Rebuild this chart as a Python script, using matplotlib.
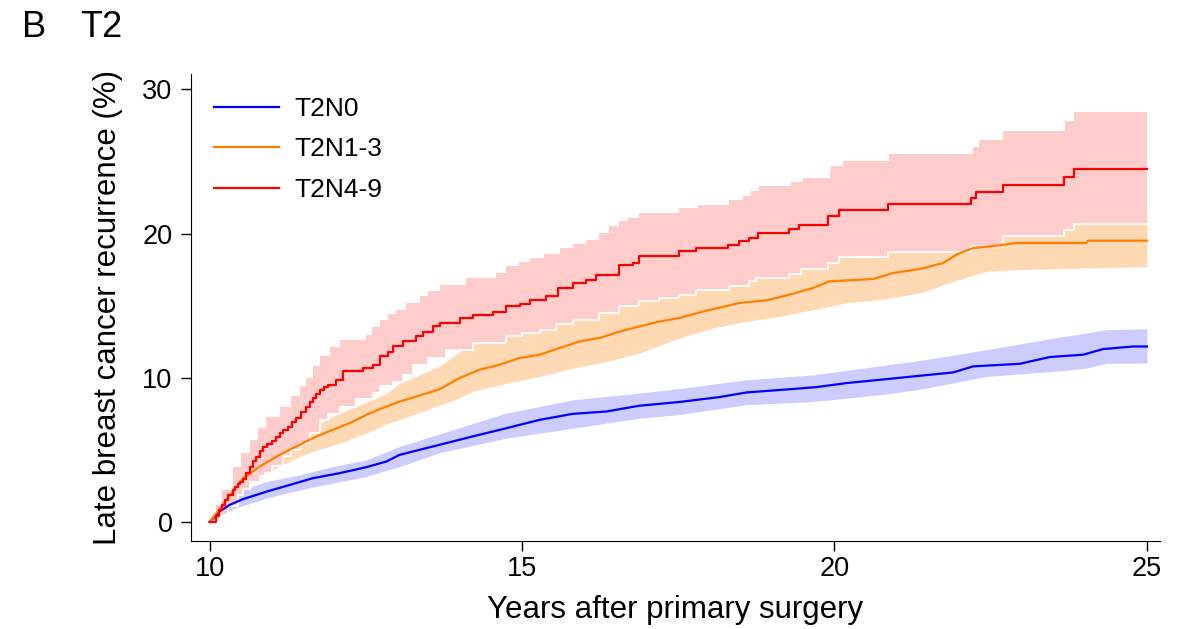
import numpy as np
import matplotlib
matplotlib.use("Agg")
import matplotlib.pyplot as plt

plt.rcParams['font.family'] = ['Liberation Sans', 'DejaVu Sans']

# --- T2N4-9 (red), step data
red_t = [10.0, 10.1, 10.15, 10.2, 10.25, 10.3, 10.37, 10.41, 10.45, 10.49, 10.53, 10.58, 10.64, 10.7,
         10.75, 10.8, 10.85, 10.92, 11.0, 11.06, 11.12, 11.18, 11.25, 11.32, 11.39, 11.47,
         11.55, 11.6, 11.65, 11.7, 11.76, 11.83, 11.9, 12.03, 12.13, 12.45, 12.61, 12.72, 12.85, 12.93,
         13.09, 13.31, 13.41, 13.57, 13.68, 14.0, 14.21, 14.53, 14.75, 14.96, 15.12, 15.39, 15.58, 15.82,
         16.03, 16.19, 16.56, 16.78, 16.88, 17.52, 17.79, 18.3, 18.48, 18.64, 18.78, 19.28, 19.44, 19.9,
         20.08, 20.86, 22.19, 22.27, 22.69, 23.67, 23.83, 25.0]
red_v = [0.0, 0.4, 0.8, 1.2, 1.5, 1.9, 2.2, 2.4, 2.6, 2.8, 3.0, 3.4, 3.8, 4.2,
         4.5, 4.9, 5.2, 5.4, 5.6, 5.9, 6.16, 6.4, 6.6, 6.9, 7.2, 7.6,
         8.0, 8.3, 8.6, 8.9, 9.17, 9.35, 9.5, 9.86, 10.44, 10.67, 10.9, 11.48, 11.8, 12.17,
         12.52, 12.87, 13.2, 13.56, 13.8, 14.15, 14.38, 14.54, 14.95, 15.14, 15.4, 15.7, 16.2, 16.57,
         16.8, 17.15, 17.85, 17.96, 18.47, 18.77, 19.0, 19.24, 19.51, 19.7, 20.05, 20.35, 20.6, 21.2,
         21.67, 22.08, 22.48, 22.92, 23.36, 23.9, 24.5, 24.5]

red_hi_t = [10.0, 10.1, 10.2, 10.37, 10.5, 10.64, 10.78, 10.91, 11.12, 11.3, 11.44, 11.55, 11.65, 11.76,
            11.92, 12.08, 12.51, 12.6, 12.72, 12.85, 12.99, 13.15, 13.36, 13.5, 13.68, 14.11, 14.59, 14.75,
            14.95, 15.12, 15.35, 15.6, 15.82, 16.03, 16.24, 16.4, 16.56, 16.7, 16.88, 17.52, 17.82, 18.32,
            18.54, 18.67, 18.8, 19.31, 19.5, 19.93, 19.95, 20.14, 20.88, 22.22, 22.32, 22.7, 23.69, 23.83, 25.0]
red_hi_v = [0.0, 1.2, 2.2, 3.84, 4.8, 5.7, 6.5, 7.3, 8.0, 8.7, 9.4, 9.98, 10.8, 11.48,
            12.1, 12.64, 12.99, 13.5, 14.03, 14.4, 14.72, 15.2, 15.65, 16.0, 16.4, 16.92, 17.27, 17.73,
            18.0, 18.31, 18.6, 19.0, 19.3, 19.58, 20.05, 20.5, 20.85, 21.1, 21.44, 21.78, 22.0, 22.36,
            22.59, 22.94, 23.28, 23.56, 23.87, 24.26, 24.68, 25.02, 25.53, 26.0, 26.5, 27.1, 27.8, 28.47, 28.47]

red_lo_t = [10.0, 10.16, 10.3, 10.45, 10.53, 10.65, 10.8, 10.88, 11.0, 11.17, 11.3, 11.44, 11.6, 11.76,
            11.9, 12.08, 12.35, 12.61, 12.72, 12.93, 13.1, 13.25, 13.5, 13.79, 14.21, 14.75, 15.0, 15.28,
            15.55, 15.82, 16.24, 16.56, 16.88, 17.2, 17.52, 17.79, 18.32, 18.64, 18.75, 19.28, 19.47, 19.9,
            20.08, 20.86, 22.19, 22.69, 23.67, 23.83, 25.0]
red_lo_v = [0.0, 0.5, 1.1, 1.9, 2.3, 2.8, 3.2, 3.38, 3.9, 4.54, 5.0, 5.46, 6.16, 7.08,
            7.5, 8.0, 8.5, 8.94, 9.4, 9.7, 10.2, 10.9, 11.4, 11.94, 12.4, 12.87, 13.1, 13.33,
            13.7, 14.03, 14.5, 14.95, 15.3, 15.5, 15.76, 16.1, 16.34, 16.69, 16.92, 17.2, 17.55, 17.96,
            18.35, 18.7, 19.12, 19.8, 20.28, 20.67, 20.67]

# --- T2N1-3 (orange)
org_t = [10.0, 10.27, 10.53, 10.8, 11.17, 11.44, 11.71, 11.97, 12.24, 12.51, 12.77, 13.04, 13.31, 13.68,
         14.0, 14.32, 14.64, 14.96, 15.28, 15.6, 15.92, 16.24, 16.56, 16.88, 17.2, 17.52, 17.9, 18.48,
         18.91, 19.28, 19.66, 19.92, 20.62, 20.94, 21.37, 21.74, 21.95, 22.22, 22.65, 22.91, 24.03, 24.06, 25.0]
org_v = [0.0, 1.53, 3.0, 3.84, 4.77, 5.35, 5.93, 6.39, 6.85, 7.43, 7.9, 8.35, 8.7, 9.2,
         9.98, 10.56, 10.9, 11.37, 11.6, 12.06, 12.52, 12.76, 13.2, 13.56, 13.9, 14.15, 14.6, 15.19,
         15.37, 15.76, 16.23, 16.69, 16.85, 17.27, 17.55, 17.96, 18.54, 19.0, 19.19, 19.35, 19.35, 19.51, 19.51]

org_band_t = [10.0, 10.27, 10.53, 10.88, 11.17, 11.44, 11.66, 12.08, 12.61, 12.83, 13.04, 13.68, 14.0, 14.21,
              14.75, 15.28, 15.82, 16.35, 16.88, 17.52, 18.06, 18.59, 19.12, 19.66, 20.19, 20.73, 21.37,
              21.9, 22.43, 22.97, 24.03, 25.0]
org_hi_v = [0.0, 1.9, 3.6, 4.6, 5.6, 6.15, 6.62, 7.55, 8.47, 8.94, 9.6, 10.8, 11.8, 12.9,
            13.3, 13.8, 14.6, 15.2, 15.9, 16.3, 16.9, 17.3, 17.8, 18.2, 18.9, 18.9, 19.5,
            20.3, 21.0, 21.3, 21.4, 21.5]
org_lo_v = [0.0, 1.2, 2.5, 3.3, 3.96, 4.54, 4.9, 5.45, 6.35, 6.8, 7.08, 8.1, 8.6, 9.05,
            9.63, 10.09, 10.67, 11.13, 11.71, 12.76, 13.45, 13.91, 14.26, 14.72, 15.19, 15.42, 15.88,
            16.69, 17.38, 17.5, 17.62, 17.7]

# --- T2N0 (blue)
blu_t = [10.0, 10.16, 10.32, 10.53, 10.91, 11.23, 11.65, 12.08, 12.51, 12.83, 13.04, 13.36, 13.68, 14.21,
         14.75, 15.28, 15.82, 16.35, 16.88, 17.52, 18.16, 18.59, 19.18, 19.71, 20.19, 20.73, 21.37, 21.9,
         22.22, 22.97, 23.13, 23.45, 23.98, 24.3, 24.78, 25.0]
blu_v = [0.0, 0.72, 1.18, 1.57, 2.1, 2.5, 3.03, 3.38, 3.8, 4.19, 4.65, 5.0, 5.35, 5.93,
         6.5, 7.08, 7.5, 7.66, 8.06, 8.32, 8.66, 8.98, 9.17, 9.35, 9.63, 9.86, 10.14, 10.37,
         10.79, 10.97, 11.13, 11.44, 11.6, 11.99, 12.17, 12.17]

blu_band_t = [10.0, 10.37, 10.91, 11.44, 11.97, 12.51, 13.04, 13.68, 14.75, 15.82, 16.88, 17.52, 18.59,
              19.66, 20.73, 21.37, 22.43, 23.5, 24.03, 24.35, 25.0]
blu_hi_v = [0.0, 1.99, 2.8, 3.26, 3.84, 4.3, 5.23, 6.1, 7.55, 8.47, 8.94, 9.25, 9.86,
            10.2, 10.83, 11.2, 11.94, 12.75, 13.1, 13.33, 13.4]
blu_lo_v = [0.0, 0.9, 1.65, 2.22, 2.69, 3.15, 3.84, 4.8, 5.81, 6.5, 7.2, 7.45, 8.13,
            8.35, 8.82, 9.2, 10.09, 10.44, 10.67, 11.0, 11.02]

labels = ["T2N0", "T2N1-3", "T2N4-9"]
c_blue, c_orange, c_red = "#0000FF", "#FF7F00", "#FF0000"

fig = plt.figure(figsize=(11.91, 6.29), dpi=100)
ax = fig.add_axes([0.160, 0.140, 0.814, 0.743])

# confidence bands
ax.fill_between(blu_band_t, blu_lo_v, blu_hi_v, color="#CCCCFF", lw=0, zorder=1)
ax.fill_between(org_band_t, org_lo_v, org_hi_v, color="#FFD9B3", lw=0, zorder=2)

# red band is a step band, put both bounds on a common time grid
grid = sorted(set(red_hi_t) | set(red_lo_t))
hi_s = np.array([red_hi_v[np.searchsorted(red_hi_t, g, side="right") - 1] for g in grid])
lo_s = np.array([red_lo_v[np.searchsorted(red_lo_t, g, side="right") - 1] for g in grid])
ax.fill_between(grid, lo_s, hi_s, step="post", color="#FFCCCC", lw=0, zorder=3)
ax.step(grid, lo_s, where="post", color="white", lw=1.3, zorder=3.5)

ax.plot(blu_t, blu_v, color=c_blue, lw=1.6, zorder=5, label=labels[0])
ax.plot(org_t, org_v, color=c_orange, lw=1.6, zorder=6, label=labels[1])
ax.step(red_t, red_v, where="post", color=c_red, lw=1.6, zorder=7, label=labels[2])

ax.set_xlim(9.696, 25.21)
ax.set_ylim(-1.32, 31.1)
ax.set_xticks([10, 15, 20, 25])
ax.set_yticks([0, 10, 20, 30])
ax.spines["top"].set_visible(False)
ax.spines["right"].set_visible(False)
ax.tick_params(axis="both", labelsize=19.5, length=7, width=1)
ax.tick_params(axis="y", pad=6)
ax.tick_params(axis="x", pad=4)

ax.set_xlabel("Years after primary surgery", fontsize=22.5, labelpad=9)
ax.set_ylabel("Late breast cancer recurrence (%)", fontsize=22.5, labelpad=14)

ax.legend(loc="upper left", bbox_to_anchor=(0.002, 0.995), frameon=False, fontsize=19,
          handlelength=2.46, handletextpad=0.6, labelspacing=0.62, borderaxespad=0.4)

fig.text(22 / 1191, 1 - 37 / 629, "B", fontsize=26, ha="left", va="baseline")
fig.text(80 / 1191, 1 - 37 / 629, "T2", fontsize=26, ha="left", va="baseline")

fig.savefig("out.png", dpi=100)
